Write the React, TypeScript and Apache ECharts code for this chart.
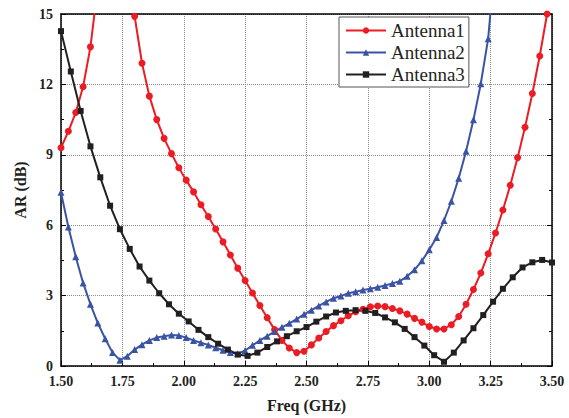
import React, { useEffect, useRef } from "react";
import * as echarts from "echarts";

const xTickLabels = ["1.50", "1.75", "2.00", "2.25", "2.50", "2.75", "3.00", "3.25", "3.50"];
const yTickLabels = ["0", "3", "6", "9", "12", "15"];

const freq1 = [
  1.50, 1.53, 1.56, 1.59, 1.62, 1.65, 1.68, 1.71, 1.74, 1.77, 1.80, 1.83, 1.86, 1.89, 1.92, 1.95, 1.98,
  2.01, 2.04, 2.07, 2.10, 2.13, 2.16, 2.19, 2.22, 2.25, 2.28, 2.31, 2.34, 2.37, 2.40, 2.43, 2.46, 2.49,
  2.52, 2.55, 2.58, 2.61, 2.64, 2.67, 2.70, 2.73, 2.76, 2.79, 2.82, 2.85, 2.88, 2.91, 2.94, 2.97, 3.00,
  3.03, 3.06, 3.09, 3.12, 3.15, 3.18, 3.21, 3.24, 3.27, 3.30, 3.33, 3.36, 3.39, 3.42, 3.45, 3.48,
];
const antenna1 = [
  9.3, 10.0, 10.8, 11.9, 13.6, 16.2, 19.0, 20.0, 19.5, 17.5, 14.9, 12.9, 11.5, 10.5, 9.7, 9.05, 8.45,
  7.92, 7.42, 6.87, 6.37, 5.84, 5.29, 4.73, 4.17, 3.64, 3.11, 2.58, 2.06, 1.55, 1.09, 0.77, 0.57, 0.63,
  0.9, 1.19, 1.47, 1.72, 1.93, 2.14, 2.31, 2.42, 2.52, 2.56, 2.53, 2.45, 2.35, 2.21, 2.03, 1.87, 1.68,
  1.58, 1.58, 1.76, 2.11, 2.63, 3.26, 3.96, 4.78, 5.67, 6.65, 7.7, 8.88, 10.17, 11.61, 13.21, 15.0,
];

const freq2 = [
  1.50, 1.53, 1.56, 1.59, 1.62, 1.65, 1.68, 1.71, 1.74, 1.77, 1.80, 1.83, 1.86, 1.89, 1.92, 1.95, 1.98,
  2.01, 2.04, 2.07, 2.10, 2.13, 2.16, 2.19, 2.22, 2.25, 2.28, 2.31, 2.34, 2.37, 2.40, 2.43, 2.46, 2.49,
  2.52, 2.55, 2.58, 2.61, 2.64, 2.67, 2.70, 2.73, 2.76, 2.79, 2.82, 2.85, 2.88, 2.91, 2.94, 2.97, 3.00,
  3.03, 3.06, 3.09, 3.12, 3.15, 3.18, 3.21, 3.24, 3.27,
];
const antenna2 = [
  7.4, 5.92, 4.66, 3.54, 2.63, 1.83, 1.16, 0.57, 0.25, 0.42, 0.7, 0.91, 1.09, 1.21, 1.27, 1.32, 1.3,
  1.21, 1.09, 0.99, 0.9, 0.78, 0.67, 0.57, 0.52, 0.66, 0.88, 1.09, 1.27, 1.47, 1.65, 1.82, 2.0, 2.2,
  2.38, 2.56, 2.73, 2.89, 2.98, 3.1, 3.16, 3.24, 3.29, 3.36, 3.43, 3.52, 3.61, 3.82, 4.1, 4.48, 4.95,
  5.48, 6.2, 7.02, 8.0, 9.15, 10.49, 12.03, 13.95, 17.5,
];

const freq3 = [
  1.50, 1.54, 1.58, 1.62, 1.66, 1.70, 1.74, 1.78, 1.82, 1.86, 1.90, 1.94, 1.98, 2.02, 2.06, 2.10, 2.14,
  2.18, 2.22, 2.26, 2.30, 2.34, 2.38, 2.42, 2.46, 2.50, 2.54, 2.58, 2.62, 2.66, 2.70, 2.74, 2.78, 2.82,
  2.86, 2.90, 2.94, 2.98, 3.02, 3.06, 3.10, 3.14, 3.18, 3.22, 3.26, 3.30, 3.34, 3.38, 3.42, 3.46, 3.50,
];
const antenna3 = [
  14.27, 12.55, 10.87, 9.36, 8.04, 6.83, 5.83, 4.99, 4.24, 3.64, 3.1, 2.63, 2.23, 1.9, 1.54, 1.23, 0.95,
  0.7, 0.49, 0.43, 0.57, 0.81, 1.05, 1.27, 1.48, 1.66, 1.89, 2.11, 2.28, 2.35, 2.38, 2.35, 2.26, 2.07,
  1.86, 1.58, 1.23, 0.87, 0.46, 0.18, 0.57, 1.09, 1.61, 2.17, 2.74, 3.29, 3.78, 4.2, 4.42, 4.52, 4.41,
];

const seriesNames = ["Antenna1", "Antenna2", "Antenna3"];
const seriesColors = ["#ec1c24", "#3a53a4", "#231f20"];

const FONT = "'Liberation Serif', 'Times New Roman', serif";

export default function App() {
  const ref = useRef<HTMLDivElement>(null);
  useEffect(() => {
    if (!ref.current) return;
    const chart = echarts.init(ref.current, undefined, { renderer: "svg" });
    const pairs = (xs: number[], ys: number[]) => xs.map((x, i) => [x, ys[i]]);
    const axisLine = { show: true, onZero: false, lineStyle: { color: "#000", width: 1.5 } };
    const option: any = {
      animation: false,
      backgroundColor: "#fff",
      grid: { left: 61, right: 17, top: 14, bottom: 47, containLabel: false },
      legend: {
        orient: "vertical",
        left: 339,
        top: 17,
        padding: [4, 4, 3, 6],
        itemGap: 3,
        itemWidth: 40,
        itemHeight: 8,
        backgroundColor: "#fff",
        borderColor: "#555",
        borderWidth: 1,
        borderRadius: 0,
        textStyle: { fontFamily: FONT, fontSize: 19, color: "#231f20" },
        data: seriesNames,
      },
      xAxis: [
        {
          type: "value",
          min: 1.5,
          max: 3.5,
          interval: 0.25,
          name: "Freq (GHz)",
          nameLocation: "middle",
          nameGap: 31,
          nameTextStyle: { fontFamily: FONT, fontSize: 16, fontWeight: "bold", color: "#231f20" },
          axisLine,
          axisTick: { inside: true, length: 5, lineStyle: { color: "#000" } },
          minorTick: { show: true, splitNumber: 2, length: 3, lineStyle: { color: "#000" } },
          axisLabel: {
            fontFamily: FONT,
            fontSize: 14,
            fontWeight: "bold",
            color: "#231f20",
            margin: 8,
            formatter: (v: number) => {
              const s = v.toFixed(2);
              return xTickLabels.includes(s) ? s : "";
            },
          },
          splitLine: { show: true, lineStyle: { type: "dotted", color: "#888", width: 1 } },
        },
        {
          type: "value",
          position: "top",
          min: 1.5,
          max: 3.5,
          interval: 0.25,
          axisLine,
          axisTick: { show: false },
          axisLabel: { show: false },
          splitLine: { show: false },
        },
      ],
      yAxis: [
        {
          type: "value",
          min: 0,
          max: 15,
          interval: 3,
          name: "AR (dB)",
          nameLocation: "middle",
          nameGap: 32,
          nameTextStyle: { fontFamily: FONT, fontSize: 16, fontWeight: "bold", color: "#231f20" },
          axisLine,
          axisTick: { inside: true, length: 5, lineStyle: { color: "#000" } },
          minorTick: { show: true, splitNumber: 2, length: 3, lineStyle: { color: "#000" } },
          axisLabel: {
            fontFamily: FONT,
            fontSize: 14,
            fontWeight: "bold",
            color: "#231f20",
            margin: 8,
            formatter: (v: number) => {
              const s = String(Math.round(v));
              return yTickLabels.includes(s) ? s : "";
            },
          },
          splitLine: { show: true, lineStyle: { type: "dotted", color: "#888", width: 1 } },
        },
        {
          type: "value",
          position: "right",
          min: 0,
          max: 15,
          interval: 3,
          axisLine,
          axisTick: { show: true, inside: true, length: 5, lineStyle: { color: "#000" } },
          minorTick: { show: true, splitNumber: 2, length: 3, lineStyle: { color: "#000" } },
          axisLabel: { show: false },
          splitLine: { show: false },
        },
      ],
      series: [
        {
          name: seriesNames[0],
          type: "line",
          data: pairs(freq1, antenna1),
          symbol: "circle",
          symbolSize: 7,
          clip: true,
          color: seriesColors[0],
          lineStyle: { width: 2, color: seriesColors[0] },
          itemStyle: { color: seriesColors[0] },
        },
        {
          name: seriesNames[1],
          type: "line",
          data: pairs(freq2, antenna2),
          symbol: "triangle",
          symbolSize: 7,
          clip: true,
          color: seriesColors[1],
          lineStyle: { width: 2, color: seriesColors[1] },
          itemStyle: { color: seriesColors[1] },
        },
        {
          name: seriesNames[2],
          type: "line",
          data: pairs(freq3, antenna3),
          symbol: "rect",
          symbolSize: 6,
          clip: true,
          color: seriesColors[2],
          lineStyle: { width: 2, color: seriesColors[2] },
          itemStyle: { color: seriesColors[2] },
        },
      ],
    };
    chart.setOption(option);
    return () => chart.dispose();
  }, []);
  return <div ref={ref} style={{ width: 569, height: 418, position: "absolute", left: 0, top: 0 }} />;
}
